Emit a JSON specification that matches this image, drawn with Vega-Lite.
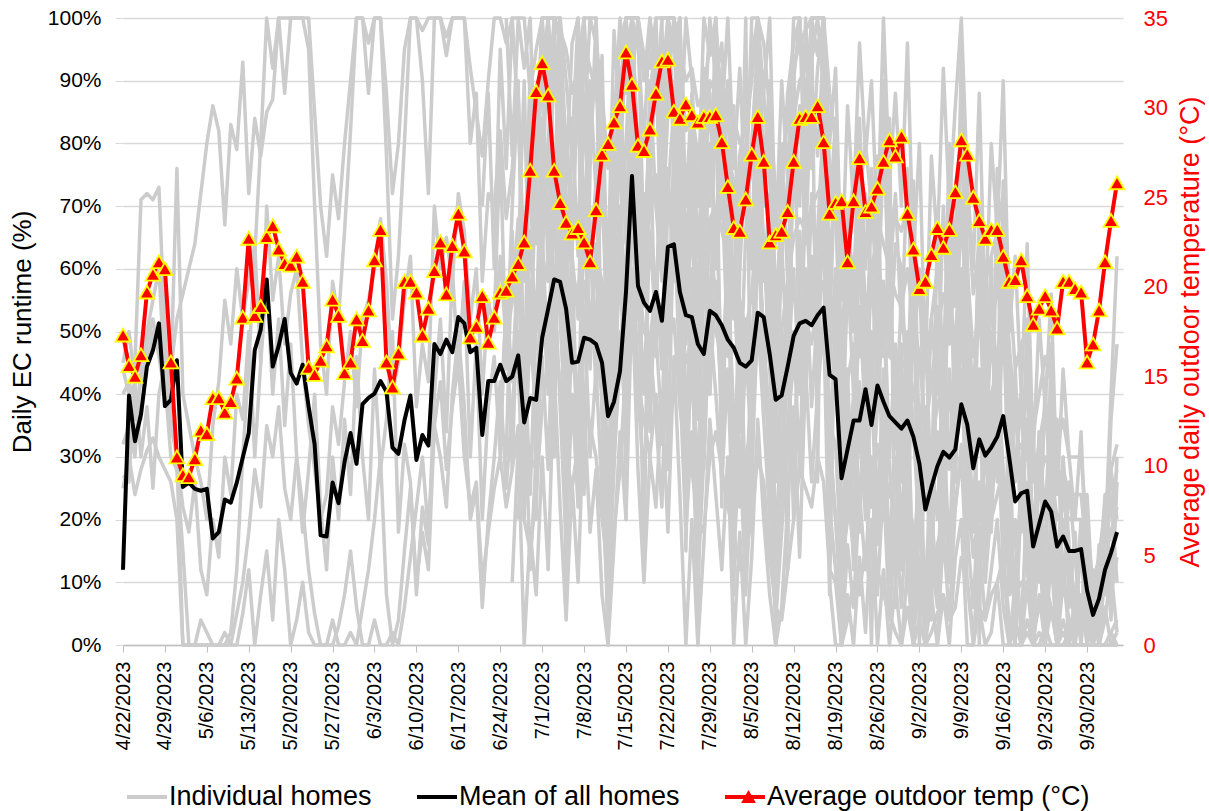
{
"$schema":"https://vega.github.io/schema/vega-lite/v6.json",
"width":1000,"height":627,
"autosize":{"type":"none"},
"padding":{"left":123,"top":18,"right":86,"bottom":166},
"background":"white",
"config":{"view":{"stroke":null},"font":"Liberation Sans"},
"data":{"values":[
{"date":"2023-04-22","mean":12.0,"temp":17.3,"a":44,"b":25,"c":40,"d":32,"e":27,"f":45},
{"date":"2023-04-23","mean":39.8,"temp":15.6,"a":40,"b":30,"c":42,"d":35,"e":26,"f":50},
{"date":"2023-04-24","mean":32.5,"temp":15.0,"a":36,"b":24,"c":38,"d":30,"e":45,"f":42},
{"date":"2023-04-25","mean":36.8,"temp":16.2,"a":42,"b":28,"c":36,"d":45,"e":71,"f":30},
{"date":"2023-04-26","mean":44.4,"temp":19.7,"a":48,"b":31,"c":45,"d":50,"e":72,"f":38},
{"date":"2023-04-27","mean":47.0,"temp":20.7,"a":52,"b":33,"c":50,"d":55,"e":71,"f":25},
{"date":"2023-04-28","mean":51.3,"temp":21.4,"a":46,"b":30,"c":47,"d":60,"e":73,"f":40},
{"date":"2023-04-29","mean":38.1,"temp":21.0,"a":40,"b":28,"c":40,"d":42,"e":50,"f":45},
{"date":"2023-04-30","mean":39.1,"temp":15.8,"a":44,"b":26,"c":43,"d":30,"e":36,"f":35},
{"date":"2023-05-01","mean":45.4,"temp":10.5,"a":52,"b":20,"c":76,"d":28,"e":30,"f":30},
{"date":"2023-05-02","mean":25.2,"temp":9.5,"a":56,"b":0,"c":40,"d":15,"e":0,"f":22},
{"date":"2023-05-03","mean":25.9,"temp":9.4,"a":60,"b":0,"c":35,"d":0,"e":0,"f":18},
{"date":"2023-05-04","mean":24.9,"temp":10.4,"a":64,"b":0,"c":30,"d":0,"e":0,"f":26},
{"date":"2023-05-05","mean":24.6,"temp":12.0,"a":72,"b":0,"c":26,"d":4,"e":0,"f":12},
{"date":"2023-05-06","mean":24.9,"temp":11.8,"a":80,"b":0,"c":20,"d":2,"e":0,"f":8},
{"date":"2023-05-07","mean":17.0,"temp":13.8,"a":86,"b":0,"c":35,"d":0,"e":0,"f":20},
{"date":"2023-05-08","mean":18.0,"temp":13.8,"a":82,"b":0,"c":42,"d":0,"e":0,"f":14},
{"date":"2023-05-09","mean":23.2,"temp":13.0,"a":67,"b":2,"c":55,"d":0,"e":0,"f":30},
{"date":"2023-05-10","mean":22.7,"temp":13.6,"a":83,"b":0,"c":48,"d":0,"e":2,"f":24},
{"date":"2023-05-11","mean":25.9,"temp":14.9,"a":79,"b":5,"c":60,"d":0,"e":12,"f":40},
{"date":"2023-05-12","mean":29.9,"temp":18.3,"a":93,"b":10,"c":52,"d":5,"e":30,"f":36},
{"date":"2023-05-13","mean":33.8,"temp":22.7,"a":72,"b":18,"c":58,"d":12,"e":45,"f":50},
{"date":"2023-05-14","mean":47.0,"temp":18.4,"a":84,"b":28,"c":64,"d":0,"e":62,"f":30},
{"date":"2023-05-15","mean":50.3,"temp":18.9,"a":78,"b":22,"c":45,"d":8,"e":80,"f":45},
{"date":"2023-05-16","mean":58.3,"temp":22.8,"a":85,"b":35,"c":70,"d":15,"e":100,"f":58},
{"date":"2023-05-17","mean":44.4,"temp":23.4,"a":87,"b":30,"c":55,"d":4,"e":92,"f":40},
{"date":"2023-05-18","mean":47.7,"temp":22.1,"a":100,"b":38,"c":62,"d":20,"e":100,"f":52},
{"date":"2023-05-19","mean":52.0,"temp":21.3,"a":88,"b":25,"c":48,"d":12,"e":100,"f":35},
{"date":"2023-05-20","mean":43.4,"temp":21.2,"a":100,"b":20,"c":56,"d":0,"e":100,"f":48},
{"date":"2023-05-21","mean":41.7,"temp":21.7,"a":100,"b":30,"c":60,"d":4,"e":100,"f":30},
{"date":"2023-05-22","mean":44.7,"temp":20.3,"a":100,"b":22,"c":45,"d":10,"e":100,"f":18},
{"date":"2023-05-23","mean":38.0,"temp":15.5,"a":100,"b":12,"c":35,"d":2,"e":95,"f":28},
{"date":"2023-05-24","mean":32.0,"temp":15.1,"a":85,"b":5,"c":28,"d":0,"e":70,"f":40},
{"date":"2023-05-25","mean":17.5,"temp":15.9,"a":70,"b":0,"c":20,"d":0,"e":48,"f":22},
{"date":"2023-05-26","mean":17.3,"temp":16.7,"a":62,"b":0,"c":24,"d":0,"e":40,"f":12},
{"date":"2023-05-27","mean":25.9,"temp":19.3,"a":75,"b":0,"c":38,"d":4,"e":58,"f":30},
{"date":"2023-05-28","mean":22.6,"temp":18.4,"a":68,"b":3,"c":32,"d":0,"e":52,"f":20},
{"date":"2023-05-29","mean":29.2,"temp":15.2,"a":80,"b":8,"c":42,"d":0,"e":66,"f":36},
{"date":"2023-05-30","mean":33.8,"temp":15.8,"a":90,"b":15,"c":50,"d":2,"e":82,"f":24},
{"date":"2023-05-31","mean":28.9,"temp":18.2,"a":100,"b":6,"c":38,"d":0,"e":100,"f":46},
{"date":"2023-06-01","mean":38.4,"temp":17.0,"a":100,"b":0,"c":52,"d":6,"e":100,"f":30},
{"date":"2023-06-02","mean":39.4,"temp":18.7,"a":96,"b":0,"c":55,"d":12,"e":88,"f":20},
{"date":"2023-06-03","mean":40.1,"temp":21.5,"a":100,"b":4,"c":60,"d":20,"e":100,"f":44},
{"date":"2023-06-04","mean":42.1,"temp":23.2,"a":100,"b":0,"c":68,"d":30,"e":100,"f":28},
{"date":"2023-06-05","mean":40.4,"temp":15.8,"a":88,"b":0,"c":58,"d":8,"e":78,"f":36},
{"date":"2023-06-06","mean":31.5,"temp":14.4,"a":72,"b":2,"c":40,"d":0,"e":52,"f":50},
{"date":"2023-06-07","mean":30.5,"temp":16.3,"a":80,"b":0,"c":45,"d":4,"e":62,"f":18},
{"date":"2023-06-08","mean":35.8,"temp":20.3,"a":95,"b":6,"c":55,"d":15,"e":80,"f":32},
{"date":"2023-06-09","mean":39.8,"temp":20.3,"a":100,"b":14,"c":62,"d":25,"e":100,"f":26},
{"date":"2023-06-10","mean":29.5,"temp":19.7,"a":100,"b":22,"c":38,"d":10,"e":100,"f":8},
{"date":"2023-06-11","mean":33.5,"temp":17.3,"a":98,"b":30,"c":48,"d":18,"e":90,"f":22},
{"date":"2023-06-12","mean":31.8,"temp":18.8,"a":100,"b":18,"c":42,"d":12,"e":72,"f":16},
{"date":"2023-06-13","mean":48.0,"temp":20.9,"a":100,"b":35,"c":70,"d":35,"e":100,"f":40},
{"date":"2023-06-14","mean":46.4,"temp":22.5,"a":100,"b":42,"c":60,"d":30,"e":100,"f":52},
{"date":"2023-06-15","mean":48.7,"temp":19.6,"a":97,"b":28,"c":65,"d":22,"e":94,"f":34},
{"date":"2023-06-16","mean":46.7,"temp":22.3,"a":100,"b":38,"c":58,"d":40,"e":100,"f":60},
{"date":"2023-06-17","mean":52.3,"temp":24.1,"a":100,"b":45,"c":72,"d":50,"e":100,"f":44},
{"date":"2023-06-18","mean":51.3,"temp":22.0,"a":100,"b":30,"c":66,"d":38,"e":100,"f":58},
{"date":"2023-06-19","mean":46.7,"temp":17.2,"a":92,"b":22,"c":52,"d":20,"e":80,"f":30},
{"date":"2023-06-20","mean":47.4,"temp":17.8,"a":85,"b":26,"c":60,"d":25,"e":88,"f":48},
{"date":"2023-06-21","mean":33.5,"temp":19.5,"a":78,"b":10,"c":40,"d":6,"e":58,"f":20,"q":70},
{"date":"2023-06-22","mean":42.1,"temp":16.9,"a":90,"b":18,"c":55,"d":20,"e":72,"f":38,"q":88},
{"date":"2023-06-23","mean":42.1,"temp":18.3,"a":100,"b":25,"c":50,"d":30,"e":70,"f":46,"i":52,"q":60},
{"date":"2023-06-24","mean":44.7,"temp":19.7,"a":100,"b":30,"c":62,"d":42,"e":82,"f":30,"i":80,"n":36,"q":95},
{"date":"2023-06-25","mean":42.1,"temp":19.8,"a":96,"b":22,"c":48,"d":25,"e":68,"f":56,"g":100,"i":44,"j":30,"n":54,"q":76},
{"date":"2023-06-26","mean":42.8,"temp":20.6,"a":100,"b":28,"c":55,"d":38,"e":76,"f":42,"g":78,"i":70,"j":66,"n":28,"p":10,"q":100},
{"date":"2023-06-27","mean":46.2,"temp":21.3,"a":100,"b":35,"c":68,"d":50,"e":88,"f":62,"g":100,"h":62,"i":90,"j":44,"k":20,"n":60,"p":32,"q":84},
{"date":"2023-06-28","mean":35.5,"temp":22.5,"a":100,"b":20,"c":40,"d":22,"e":60,"f":28,"g":92,"h":90,"i":38,"j":20,"k":42,"l":40,"n":48,"p":0,"q":58},
{"date":"2023-06-29","mean":39.4,"temp":26.5,"a":88,"b":15,"c":58,"d":30,"e":75,"f":50,"g":100,"h":48,"i":66,"j":58,"k":12,"l":85,"n":24,"o":90,"p":18,"q":92},
{"date":"2023-06-30","mean":39.1,"temp":30.9,"a":95,"b":24,"c":52,"d":28,"e":72,"f":36,"g":70,"h":74,"i":50,"j":36,"k":30,"l":20,"n":52,"o":64,"p":8,"q":80},
{"date":"2023-07-01","mean":49.0,"temp":32.5,"a":100,"b":38,"c":70,"d":55,"e":92,"f":58,"g":100,"h":96,"i":84,"j":62,"k":46,"l":70,"n":66,"o":78,"p":30,"q":100},
{"date":"2023-07-02","mean":53.6,"temp":30.7,"a":100,"b":45,"c":80,"d":62,"e":100,"f":40,"g":100,"h":58,"i":64,"j":80,"k":28,"l":100,"n":44,"o":96,"p":12,"q":86},
{"date":"2023-07-03","mean":58.3,"temp":26.5,"a":100,"b":50,"c":95,"d":75,"e":100,"f":70,"g":88,"h":100,"i":96,"j":48,"k":60,"l":30,"n":78,"o":70,"p":44,"q":100},
{"date":"2023-07-04","mean":57.9,"temp":24.7,"a":98,"b":42,"c":88,"d":60,"e":100,"f":52,"g":100,"h":72,"i":70,"j":92,"k":38,"l":88,"n":54,"o":100,"p":22,"q":96},
{"date":"2023-07-05","mean":53.6,"temp":23.6,"a":95,"b":30,"c":72,"d":45,"e":90,"f":36,"g":74,"h":50,"i":44,"j":34,"k":16,"l":10,"n":30,"o":58,"p":4,"q":80},
{"date":"2023-07-06","mean":45.0,"temp":23.0,"a":88,"b":25,"c":60,"d":35,"e":78,"f":62,"g":96,"h":84,"i":62,"j":56,"k":40,"l":62,"n":48,"o":80,"p":26,"q":66},
{"date":"2023-07-07","mean":45.2,"temp":23.3,"a":92,"b":32,"c":55,"d":40,"e":85,"f":30,"g":100,"h":62,"i":52,"j":28,"k":22,"l":94,"n":36,"o":100,"p":10,"q":90},
{"date":"2023-07-08","mean":49.0,"temp":22.5,"a":100,"b":40,"c":70,"d":58,"e":96,"f":48,"g":82,"h":100,"i":88,"j":70,"k":54,"l":24,"n":72,"o":66,"p":38,"q":100},
{"date":"2023-07-09","mean":48.7,"temp":21.4,"a":100,"b":35,"c":66,"d":52,"e":92,"f":66,"g":100,"h":66,"i":60,"j":44,"k":30,"l":76,"n":50,"o":90,"p":18,"q":78},
{"date":"2023-07-10","mean":48.0,"temp":24.3,"a":96,"b":30,"c":62,"d":48,"e":88,"f":40,"g":100,"h":48,"i":74,"j":64,"k":44,"l":100,"n":62,"o":72,"p":28,"q":96},
{"date":"2023-07-11","mean":45.0,"temp":27.4,"a":88,"b":20,"c":58,"d":40,"e":80,"f":55,"g":76,"h":80,"i":42,"j":50,"k":24,"l":35,"n":38,"o":94,"p":8,"q":70},
{"date":"2023-07-12","mean":36.5,"temp":28.0,"a":76,"b":12,"c":45,"d":22,"e":62,"f":26,"g":60,"h":36,"i":24,"j":18,"k":6,"l":0,"n":14,"o":48,"p":0,"q":54},
{"date":"2023-07-13","mean":38.8,"temp":29.2,"a":84,"b":18,"c":52,"d":30,"e":74,"f":44,"g":98,"h":70,"i":60,"j":36,"k":28,"l":55,"n":44,"o":66,"p":16,"q":82},
{"date":"2023-07-14","mean":43.7,"temp":30.1,"a":96,"b":28,"c":62,"d":45,"e":86,"f":60,"g":84,"h":92,"i":78,"j":64,"k":50,"l":90,"n":70,"o":88,"p":34,"q":100},
{"date":"2023-07-15","mean":56.3,"temp":33.1,"a":100,"b":45,"c":80,"d":62,"e":100,"f":38,"g":100,"h":64,"i":94,"j":46,"k":34,"l":20,"n":52,"o":100,"p":20,"q":88},
{"date":"2023-07-16","mean":74.8,"temp":31.3,"a":100,"b":60,"c":100,"d":85,"e":100,"f":90,"g":100,"h":100,"i":100,"j":86,"k":72,"l":100,"n":92,"o":90,"p":56,"q":100},
{"date":"2023-07-17","mean":57.3,"temp":27.9,"a":100,"b":42,"c":78,"d":60,"e":100,"f":52,"g":100,"h":78,"i":70,"j":52,"k":40,"l":64,"n":60,"o":100,"p":28,"q":96},
{"date":"2023-07-18","mean":54.6,"temp":27.6,"a":94,"b":36,"c":70,"d":50,"e":92,"f":66,"g":90,"h":54,"i":56,"j":72,"k":26,"l":12,"n":40,"o":62,"p":10,"q":80},
{"date":"2023-07-19","mean":53.3,"temp":28.8,"a":92,"b":30,"c":68,"d":48,"e":88,"f":40,"g":100,"h":90,"i":74,"j":34,"k":48,"l":82,"n":66,"o":84,"p":30,"q":100},
{"date":"2023-07-20","mean":56.3,"temp":30.8,"a":100,"b":40,"c":75,"d":58,"e":96,"f":58,"g":86,"h":70,"i":92,"j":60,"k":36,"l":46,"n":50,"o":100,"p":22,"q":92},
{"date":"2023-07-21","mean":51.7,"temp":32.6,"a":100,"b":32,"c":66,"d":50,"e":90,"f":72,"g":100,"h":58,"i":62,"j":44,"k":22,"l":100,"n":34,"o":72,"p":40,"q":84},
{"date":"2023-07-22","mean":63.5,"temp":32.7,"a":100,"b":48,"c":85,"d":72,"e":100,"f":48,"g":100,"h":100,"i":88,"j":76,"k":56,"l":28,"n":72,"o":94,"p":18,"q":100},
{"date":"2023-07-23","mean":63.9,"temp":29.8,"a":100,"b":52,"c":88,"d":70,"e":100,"f":80,"g":100,"h":84,"i":100,"j":58,"k":70,"l":70,"n":86,"o":80,"p":46,"q":96},
{"date":"2023-07-24","mean":56.3,"temp":29.4,"a":95,"b":38,"c":72,"d":55,"e":94,"f":56,"g":78,"h":100,"i":64,"j":90,"k":42,"l":100,"n":56,"o":100,"p":24,"q":100},
{"date":"2023-07-25","mean":52.6,"temp":30.2,"a":90,"b":30,"c":64,"d":45,"e":82,"f":34,"g":100,"h":52,"i":48,"j":32,"k":18,"l":15,"n":26,"o":60,"p":0,"q":70},
{"date":"2023-07-26","mean":52.3,"temp":29.6,"a":92,"b":28,"c":66,"d":48,"e":85,"f":60,"g":90,"h":76,"i":70,"j":50,"k":34,"l":58,"n":46,"o":84,"p":20,"q":88},
{"date":"2023-07-27","mean":48.0,"temp":29.2,"a":86,"b":20,"c":58,"d":40,"e":78,"f":42,"g":70,"h":40,"i":36,"j":24,"k":10,"l":0,"n":18,"o":50,"p":0,"q":62},
{"date":"2023-07-28","mean":46.4,"temp":29.5,"a":88,"b":18,"c":55,"d":36,"e":76,"f":28,"g":100,"h":72,"i":56,"j":66,"k":30,"l":84,"n":42,"o":92,"p":16,"q":80},
{"date":"2023-07-29","mean":53.3,"temp":29.5,"a":96,"b":30,"c":68,"d":52,"e":90,"f":56,"g":94,"h":88,"i":80,"j":40,"k":52,"l":40,"n":68,"o":70,"p":36,"q":100},
{"date":"2023-07-30","mean":52.6,"temp":29.6,"a":94,"b":34,"c":70,"d":50,"e":88,"f":70,"g":100,"h":60,"i":66,"j":58,"k":40,"l":96,"n":54,"o":100,"p":24,"q":90},
{"date":"2023-07-31","mean":51.0,"temp":28.1,"a":90,"b":28,"c":66,"d":46,"e":84,"f":44,"g":84,"h":90,"i":74,"j":36,"k":26,"l":22,"n":40,"o":68,"p":12,"q":96},
{"date":"2023-08-01","mean":48.7,"temp":25.6,"a":86,"b":22,"c":62,"d":40,"e":78,"f":60,"g":100,"h":52,"i":46,"j":62,"k":44,"l":74,"n":58,"o":90,"p":30,"q":72},
{"date":"2023-08-02","mean":47.4,"temp":23.3,"a":84,"b":18,"c":58,"d":38,"e":74,"f":36,"g":76,"h":74,"i":60,"j":28,"k":14,"l":8,"n":24,"o":52,"p":0,"q":86},
{"date":"2023-08-03","mean":45.0,"temp":23.1,"a":80,"b":12,"c":55,"d":32,"e":68,"f":22,"g":92,"h":38,"i":34,"j":54,"k":32,"l":60,"n":46,"o":78,"p":18,"q":60},
{"date":"2023-08-04","mean":44.4,"temp":24.9,"a":82,"b":15,"c":50,"d":30,"e":70,"f":48,"g":70,"h":66,"i":52,"j":22,"k":8,"l":100,"n":14,"o":86,"p":0,"q":78},
{"date":"2023-08-05","mean":45.4,"temp":27.4,"a":90,"b":20,"c":56,"d":35,"e":76,"f":30,"g":100,"h":80,"i":42,"j":46,"k":28,"l":18,"n":38,"o":60,"p":14,"q":94},
{"date":"2023-08-06","mean":53.0,"temp":29.5,"a":100,"b":30,"c":70,"d":50,"e":92,"f":64,"g":100,"h":96,"i":82,"j":70,"k":52,"l":88,"n":64,"o":100,"p":36,"q":100},
{"date":"2023-08-07","mean":52.3,"temp":27.0,"a":96,"b":26,"c":65,"d":48,"e":88,"f":50,"g":88,"h":58,"i":64,"j":40,"k":36,"l":36,"n":50,"o":70,"p":20,"q":76},
{"date":"2023-08-08","mean":46.4,"temp":22.5,"a":85,"b":14,"c":55,"d":36,"e":74,"f":26,"g":100,"h":72,"i":44,"j":58,"k":20,"l":70,"n":30,"o":84,"p":8,"q":90},
{"date":"2023-08-09","mean":39.1,"temp":22.9,"a":72,"b":6,"c":48,"d":22,"e":58,"f":12,"g":64,"h":30,"i":26,"j":16,"k":4,"l":0,"n":10,"o":40,"p":0,"q":50},
{"date":"2023-08-10","mean":39.8,"temp":23.1,"a":75,"b":4,"c":50,"d":25,"e":62,"f":30,"g":90,"h":64,"i":40,"j":30,"k":18,"l":50,"n":26,"o":80,"p":6,"q":72},
{"date":"2023-08-11","mean":44.4,"temp":24.2,"a":84,"b":12,"c":58,"d":35,"e":74,"f":48,"g":74,"h":44,"i":58,"j":50,"k":34,"l":12,"n":44,"o":58,"p":22,"q":88},
{"date":"2023-08-12","mean":49.3,"temp":27.0,"a":92,"b":20,"c":65,"d":45,"e":84,"f":24,"g":100,"h":88,"i":72,"j":20,"k":50,"l":94,"n":60,"o":90,"p":38,"q":96},
{"date":"2023-08-13","mean":51.3,"temp":29.4,"a":96,"b":28,"c":68,"d":50,"e":90,"f":56,"g":100,"h":70,"i":86,"j":66,"k":28,"l":42,"n":40,"o":100,"p":14,"q":100},
{"date":"2023-08-14","mean":51.7,"temp":29.5,"a":98,"b":25,"c":66,"d":52,"e":92,"f":40,"g":86,"h":100,"i":64,"j":44,"k":60,"l":80,"n":72,"o":70,"p":44,"q":82},
{"date":"2023-08-15","mean":51.0,"temp":29.5,"a":100,"b":22,"c":70,"d":48,"e":94,"f":62,"g":100,"h":76,"i":90,"j":72,"k":38,"l":100,"n":52,"o":94,"p":26,"q":100},
{"date":"2023-08-16","mean":52.6,"temp":30.1,"a":100,"b":30,"c":72,"d":55,"e":96,"f":46,"g":100,"h":92,"i":78,"j":56,"k":54,"l":26,"n":66,"o":100,"p":40,"q":94},
{"date":"2023-08-17","mean":53.8,"temp":28.1,"a":100,"b":26,"c":74,"d":58,"e":98,"f":70,"g":100,"h":100,"i":96,"j":80,"k":68,"l":100,"n":84,"o":88,"p":52,"q":100},
{"date":"2023-08-18","mean":43.1,"temp":24.1,"a":88,"b":12,"c":56,"d":35,"e":76,"f":32,"g":80,"h":50,"i":44,"j":30,"k":22,"l":8,"n":34,"o":60,"p":10,"q":68},
{"date":"2023-08-19","mean":42.4,"temp":24.7,"a":80,"b":10,"c":54,"d":32,"e":70,"f":20,"g":92,"h":78,"i":60,"j":52,"k":12,"l":60,"n":20,"o":76,"p":0,"q":84},
{"date":"2023-08-20","mean":26.6,"temp":24.8,"a":55,"b":0,"c":35,"d":12,"e":42,"f":8,"g":58,"h":26,"i":16,"j":8,"k":0,"l":0,"n":4,"o":36,"p":0,"q":44},
{"date":"2023-08-21","mean":31.2,"temp":21.4,"a":66,"b":4,"c":42,"d":20,"e":54,"f":26,"g":86,"h":60,"i":40,"j":34,"k":16,"l":44,"n":26,"o":66,"p":8,"q":70},
{"date":"2023-08-22","mean":35.8,"temp":24.8,"a":74,"b":10,"c":48,"d":28,"e":62,"f":40,"g":70,"h":40,"i":28,"j":18,"k":6,"l":12,"n":14,"o":50,"p":0,"q":56},
{"date":"2023-08-23","mean":35.8,"temp":27.2,"a":72,"b":8,"c":46,"d":25,"e":60,"f":18,"g":96,"h":72,"i":54,"j":42,"k":24,"l":70,"n":36,"o":80,"p":14,"q":84},
{"date":"2023-08-24","mean":40.8,"temp":24.2,"a":80,"b":16,"c":56,"d":35,"e":72,"f":46,"g":78,"h":54,"i":36,"j":26,"k":12,"l":30,"n":20,"o":44,"p":2,"q":60},
{"date":"2023-08-25","mean":35.1,"temp":24.5,"a":70,"b":6,"c":44,"d":22,"e":58,"f":22,"g":90,"h":36,"i":60,"j":50,"k":30,"l":0,"n":42,"o":70,"p":20,"q":76},
{"date":"2023-08-26","mean":41.4,"temp":25.5,"a":78,"b":12,"c":52,"d":32,"e":68,"f":38,"g":66,"h":70,"i":42,"j":20,"k":8,"l":58,"n":16,"o":56,"p":0,"q":52},
{"date":"2023-08-27","mean":38.8,"temp":27.0,"a":74,"b":8,"c":48,"d":28,"e":64,"f":54,"g":100,"h":46,"i":58,"j":44,"k":26,"l":20,"n":38,"o":90,"p":12,"q":80},
{"date":"2023-08-28","mean":36.5,"temp":28.2,"a":70,"b":5,"c":46,"d":24,"e":60,"f":28,"g":74,"h":62,"i":30,"j":12,"k":4,"l":84,"n":10,"o":46,"p":0,"q":58},
{"date":"2023-08-29","mean":35.5,"temp":27.3,"a":68,"b":2,"c":45,"d":22,"e":56,"f":16,"g":88,"h":34,"i":48,"j":38,"k":20,"l":6,"n":30,"o":64,"p":10,"q":72},
{"date":"2023-08-30","mean":34.5,"temp":28.4,"a":66,"b":0,"c":44,"d":20,"e":54,"f":36,"g":70,"h":56,"i":26,"j":18,"k":6,"l":48,"n":12,"o":60,"p":0,"q":50},
{"date":"2023-08-31","mean":35.8,"temp":24.1,"a":70,"b":6,"c":46,"d":25,"e":60,"f":22,"g":96,"h":40,"i":50,"j":40,"k":24,"l":10,"n":34,"o":38,"p":12,"q":76},
{"date":"2023-09-01","mean":33.2,"temp":22.1,"a":64,"b":0,"c":40,"d":18,"e":52,"f":12,"g":62,"h":64,"i":34,"j":10,"k":0,"l":62,"n":4,"o":74,"p":0,"q":46},
{"date":"2023-09-02","mean":28.9,"temp":19.9,"a":58,"b":0,"c":36,"d":12,"e":46,"f":30,"g":80,"h":22,"i":18,"j":30,"k":14,"l":0,"n":22,"o":30,"p":4,"q":60},
{"date":"2023-09-03","mean":21.6,"temp":20.3,"a":44,"b":0,"c":26,"d":4,"e":34,"f":8,"g":44,"h":38,"i":8,"j":0,"k":0,"l":36,"n":0,"o":50,"p":0,"q":28},
{"date":"2023-09-04","mean":25.2,"temp":21.8,"a":52,"b":2,"c":32,"d":10,"e":42,"f":20,"g":78,"h":16,"i":30,"j":22,"k":8,"l":4,"n":14,"o":24,"p":0,"q":52},
{"date":"2023-09-05","mean":28.5,"temp":23.3,"a":60,"b":5,"c":38,"d":16,"e":50,"f":34,"g":64,"h":50,"i":20,"j":8,"k":0,"l":54,"n":6,"o":66,"p":0,"q":40},
{"date":"2023-09-06","mean":30.8,"temp":22.2,"a":66,"b":8,"c":42,"d":20,"e":56,"f":16,"g":92,"h":34,"i":46,"j":36,"k":18,"l":22,"n":28,"o":42,"p":8,"q":70},
{"date":"2023-09-07","mean":29.9,"temp":23.2,"a":62,"b":4,"c":40,"d":18,"e":52,"f":44,"g":70,"h":60,"i":28,"j":14,"k":4,"l":70,"n":10,"o":80,"p":0,"q":48},
{"date":"2023-09-08","mean":31.2,"temp":25.3,"a":66,"b":6,"c":42,"d":22,"e":56,"f":26,"g":86,"h":42,"i":50,"j":42,"k":22,"l":30,"n":32,"o":54,"p":14,"q":66},
{"date":"2023-09-09","mean":38.4,"temp":28.2,"a":78,"b":14,"c":52,"d":32,"e":66,"f":52,"g":100,"h":72,"i":60,"j":56,"k":30,"l":96,"n":44,"o":90,"p":20,"q":84},
{"date":"2023-09-10","mean":35.1,"temp":27.4,"a":72,"b":10,"c":46,"d":26,"e":60,"f":30,"g":74,"h":46,"i":38,"j":24,"k":10,"l":14,"n":18,"o":62,"p":0,"q":56},
{"date":"2023-09-11","mean":28.2,"temp":25.0,"a":56,"b":2,"c":36,"d":14,"e":46,"f":18,"g":60,"h":28,"i":20,"j":40,"k":0,"l":44,"n":6,"o":30,"p":0,"q":38},
{"date":"2023-09-12","mean":32.8,"temp":23.7,"a":64,"b":6,"c":42,"d":22,"e":54,"f":40,"g":88,"h":58,"i":44,"j":12,"k":16,"l":0,"n":26,"o":70,"p":6,"q":62},
{"date":"2023-09-13","mean":30.2,"temp":22.7,"a":58,"b":4,"c":38,"d":16,"e":48,"f":14,"g":52,"h":30,"i":18,"j":32,"k":4,"l":60,"n":10,"o":40,"p":0,"q":34},
{"date":"2023-09-14","mean":31.5,"temp":23.2,"a":62,"b":8,"c":40,"d":20,"e":52,"f":32,"g":80,"h":50,"i":40,"j":18,"k":12,"l":20,"n":22,"o":62,"p":2,"q":56},
{"date":"2023-09-15","mean":33.2,"temp":23.2,"a":66,"b":10,"c":44,"d":24,"e":56,"f":46,"g":66,"h":36,"i":26,"j":44,"k":20,"l":76,"n":34,"o":28,"p":10,"q":42},
{"date":"2023-09-16","mean":36.5,"temp":21.7,"a":72,"b":14,"c":48,"d":28,"e":62,"f":24,"g":90,"h":64,"i":54,"j":28,"k":6,"l":8,"n":14,"o":74,"p":0,"q":68},
{"date":"2023-09-17","mean":29.9,"temp":20.3,"a":58,"b":4,"c":38,"d":16,"e":48,"f":12,"g":50,"h":22,"i":20,"j":8,"k":0,"l":38,"n":0,"o":44,"p":0,"q":30},
{"date":"2023-09-18","mean":22.9,"temp":20.4,"a":44,"b":0,"c":30,"d":8,"e":36,"f":6,"g":62,"h":40,"i":10,"j":20,"k":4,"l":0,"n":10,"o":26,"p":0,"q":44},
{"date":"2023-09-19","mean":24.2,"temp":21.5,"a":48,"b":0,"c":32,"d":10,"e":40,"f":24,"g":40,"h":18,"i":26,"j":0,"k":0,"l":24,"n":4,"o":40,"p":0,"q":22},
{"date":"2023-09-20","mean":24.6,"temp":19.5,"a":50,"b":2,"c":32,"d":10,"e":40,"f":36,"g":64,"h":36,"i":12,"j":26,"k":10,"l":52,"n":20,"o":16,"p":4,"q":46},
{"date":"2023-09-21","mean":15.7,"temp":17.9,"a":34,"b":0,"c":20,"d":2,"e":26,"f":10,"g":30,"h":8,"i":2,"j":4,"k":0,"l":0,"n":0,"o":34,"p":0,"q":14},
{"date":"2023-09-22","mean":19.3,"temp":18.8,"a":40,"b":0,"c":26,"d":6,"e":32,"f":20,"g":52,"h":28,"i":18,"j":16,"k":2,"l":34,"n":8,"o":10,"p":0,"q":34},
{"date":"2023-09-23","mean":22.9,"temp":19.5,"a":46,"b":3,"c":30,"d":10,"e":38,"f":4,"g":38,"h":14,"i":6,"j":0,"k":0,"l":10,"n":0,"o":42,"p":0,"q":20},
{"date":"2023-09-24","mean":21.3,"temp":18.7,"a":42,"b":0,"c":28,"d":6,"e":34,"f":16,"g":56,"h":32,"i":20,"j":22,"k":6,"l":48,"n":14,"o":20,"p":0,"q":40},
{"date":"2023-09-25","mean":15.7,"temp":17.7,"a":32,"b":0,"c":20,"d":0,"e":26,"f":8,"g":24,"h":6,"i":0,"j":0,"k":0,"l":0,"n":0,"o":36,"p":0,"q":10},
{"date":"2023-09-26","mean":17.3,"temp":20.3,"a":36,"b":0,"c":22,"d":2,"e":28,"f":28,"g":44,"h":20,"i":10,"j":14,"k":0,"l":30,"n":4,"o":8,"p":0,"q":30},
{"date":"2023-09-27","mean":15.0,"temp":20.3,"a":30,"b":0,"c":20,"d":0,"e":24,"f":12,"g":30,"h":12,"i":4,"j":0,"k":2,"l":6,"n":0,"o":26,"p":0,"q":16},
{"date":"2023-09-28","mean":15.0,"temp":19.9,"a":30,"b":0,"c":20,"d":0,"e":24,"f":2,"g":20,"h":4,"i":0,"j":8,"k":0,"l":18,"n":0,"o":14,"p":0,"q":6},
{"date":"2023-09-29","mean":15.3,"temp":19.7,"a":30,"b":0,"c":20,"d":0,"e":24,"f":18,"g":34,"h":16,"i":8,"j":0,"k":0,"l":0,"n":0,"o":2,"p":0,"q":20},
{"date":"2023-09-30","mean":8.7,"temp":15.8,"a":18,"b":0,"c":10,"d":0,"e":14,"f":6,"g":10,"h":0,"i":0,"j":0,"k":0,"l":12,"n":0,"o":24,"p":0,"q":2},
{"date":"2023-10-01","mean":4.8,"temp":16.8,"a":10,"b":0,"c":6,"d":0,"e":8,"f":0,"g":0,"h":6,"i":0,"j":12,"k":0,"l":0,"n":0,"o":6,"p":0,"q":0},
{"date":"2023-10-02","mean":7.4,"temp":18.7,"a":14,"b":0,"c":8,"d":0,"e":12,"f":10,"g":16,"h":0,"i":0,"j":0,"k":0,"l":4,"n":0,"o":0,"p":0,"q":6},
{"date":"2023-10-03","mean":12.0,"temp":21.4,"a":22,"b":0,"c":14,"d":0,"e":18,"f":24,"g":8,"h":22,"i":4,"j":18,"k":0,"l":16,"n":6,"o":12,"p":0,"q":14},
{"date":"2023-10-04","mean":14.7,"temp":23.7,"a":28,"b":2,"c":18,"d":0,"e":22,"f":8,"g":28,"h":10,"i":12,"j":4,"k":2,"l":40,"n":0,"o":36,"p":0,"q":24},
{"date":"2023-10-05","mean":18.0,"temp":25.8,"a":32,"b":4,"c":22,"d":2,"e":28,"f":14,"g":20,"h":30,"i":2,"j":26,"k":0,"l":62,"n":0,"o":48,"p":0,"q":10}
]},
"encoding":{
 "x":{"field":"date","type":"temporal",
  "scale":{"type":"utc","domain":[{"year":2023,"month":4,"date":22,"utc":true},{"year":2023,"month":10,"date":6,"utc":true}]},
  "axis":{"title":null,"grid":false,"format":"%-m/%-d/%Y","labelAngle":270,"labelFontSize":20,"labelColor":"#000000","labelPadding":9,"tickSize":7,"tickColor":"#bfbfbf","domainColor":"#bfbfbf","domainWidth":1.5,"labelOverlap":false,"labelFlush":false,"labelBound":false,
   "values":[{"year":2023,"month":4,"date":22,"utc":true},{"year":2023,"month":4,"date":29,"utc":true},{"year":2023,"month":5,"date":6,"utc":true},{"year":2023,"month":5,"date":13,"utc":true},{"year":2023,"month":5,"date":20,"utc":true},{"year":2023,"month":5,"date":27,"utc":true},{"year":2023,"month":6,"date":3,"utc":true},{"year":2023,"month":6,"date":10,"utc":true},{"year":2023,"month":6,"date":17,"utc":true},{"year":2023,"month":6,"date":24,"utc":true},{"year":2023,"month":7,"date":1,"utc":true},{"year":2023,"month":7,"date":8,"utc":true},{"year":2023,"month":7,"date":15,"utc":true},{"year":2023,"month":7,"date":22,"utc":true},{"year":2023,"month":7,"date":29,"utc":true},{"year":2023,"month":8,"date":5,"utc":true},{"year":2023,"month":8,"date":12,"utc":true},{"year":2023,"month":8,"date":19,"utc":true},{"year":2023,"month":8,"date":26,"utc":true},{"year":2023,"month":9,"date":2,"utc":true},{"year":2023,"month":9,"date":9,"utc":true},{"year":2023,"month":9,"date":16,"utc":true},{"year":2023,"month":9,"date":23,"utc":true},{"year":2023,"month":9,"date":30,"utc":true}]}}
},
"layer":[
 {"layer":[
  {"transform":[{"fold":["a","b","c","d","e","f","g","h","i","j","k","l","n","o","p","q"],"as":["home","runtime"]},{"filter":"isValid(datum.runtime)"}],
   "mark":{"type":"line","strokeWidth":3.5,"strokeJoin":"round"},
   "encoding":{
    "y":{"field":"runtime","type":"quantitative","scale":{"domain":[0,100]},
     "axis":{"title":"Daily EC runtime (%)","values":[0,10,20,30,40,50,60,70,80,90,100],"labelExpr":"datum.value + '%'","labelFontSize":21,"labelColor":"#000000","labelPadding":14,"tickSize":8,"tickColor":"#d9d9d9","domain":false,"grid":true,"gridColor":"#d9d9d9","gridWidth":1.3,"titleFontSize":26,"titleFontWeight":"normal","titleColor":"#000000","titlePadding":12}},
    "detail":{"field":"home"},
    "color":{"datum":"Individual homes","type":"nominal",
     "scale":{"domain":["Individual homes","Mean of all homes","Average outdoor temp (°C)"],"range":["#cccccc","#000000","#ff0000"]},
     "legend":{"orient":"none","legendX":2,"legendY":757,"direction":"horizontal","columns":3,"title":null,"padding":0,"labelFontSize":27,"labelColor":"#000000","labelLimit":0,"labelOffset":0,"columnPadding":37,"symbolType":"stroke","symbolSize":1600,"symbolStrokeWidth":4}}
   }},
  {"mark":{"type":"line","strokeWidth":4,"strokeJoin":"round"},
   "encoding":{
    "y":{"field":"mean","type":"quantitative","scale":{"domain":[0,100]},
     "axis":{"title":"Daily EC runtime (%)","values":[0,10,20,30,40,50,60,70,80,90,100],"labelExpr":"datum.value + '%'","labelFontSize":21,"labelColor":"#000000","labelPadding":14,"tickSize":8,"tickColor":"#d9d9d9","domain":false,"grid":true,"gridColor":"#d9d9d9","gridWidth":1.3,"titleFontSize":26,"titleFontWeight":"normal","titleColor":"#000000","titlePadding":12}},
    "color":{"datum":"Mean of all homes","type":"nominal"}
   }}
 ]},
 {"encoding":{
   "y":{"field":"temp","type":"quantitative","scale":{"domain":[0,35]},
    "axis":{"orient":"right","title":"Average daily outdoor temperature (°C)","titleAngle":270,"titleBaseline":"top","values":[0,5,10,15,20,25,30,35],"labelFontSize":22,"labelColor":"#ff0000","labelPadding":20,"tickSize":0,"ticks":false,"domain":false,"grid":false,"titleFontSize":27,"titleFontWeight":"normal","titleColor":"#ff0000","titlePadding":10}}},
  "layer":[
   {"mark":{"type":"line","strokeWidth":4,"strokeJoin":"round"},
    "encoding":{"color":{"datum":"Average outdoor temp (°C)","type":"nominal"}}},
   {"mark":{"type":"point","shape":"triangle-up","filled":true,"fill":"#ff0000","stroke":"#ffff00","strokeWidth":1.8,"size":220,"opacity":1},
    "encoding":{"shape":{"datum":"Average outdoor temp (°C)","type":"nominal","scale":{"range":["triangle-up"]},
      "legend":{"orient":"none","legendX":617,"legendY":770,"title":null,"padding":0,"labelOpacity":0,"labelFontSize":2,"symbolSize":220,"symbolFillColor":"#ff0000","symbolStrokeColor":"#ffff00","symbolStrokeWidth":1.8,"symbolOpacity":1}}}}
  ]}
],
"resolve":{"scale":{"y":"independent"}}
}
